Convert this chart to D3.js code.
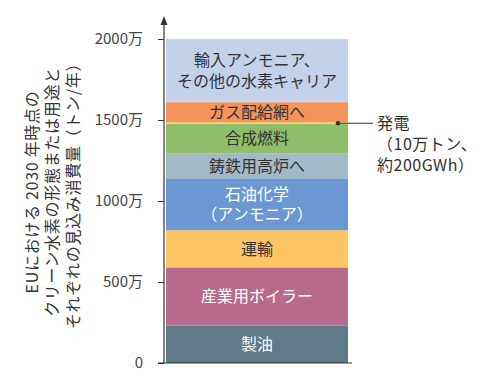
<!DOCTYPE html>
<html>
<head>
<meta charset="utf-8">
<script src="https://cdn.jsdelivr.net/npm/d3@7"></script>
<style>
  body { margin: 0; background: #fff; }
  text { font-family: "Noto Sans CJK JP", "Noto Sans", sans-serif; }
</style>
</head>
<body>
<div id="chart"></div>
<script>
// values in 万トン, stacked bottom to top
const categories = ['製油', '産業用ボイラー', '運輸', '石油化学', '鋳鉄用高炉へ', '合成燃料', '発電', 'ガス配給網へ', '輸入アンモニア'];
const values = [230, 360, 230, 320, 155, 180, 10, 125, 390];
const labels = [['製油'], ['産業用ボイラー'], ['運輸'], ['石油化学', '（アンモニア）'], ['鋳鉄用高炉へ'], ['合成燃料'], [], ['ガス配給網へ'], ['輸入アンモニア、', 'その他の水素キャリア']];
const colors = ['#5f7b88', '#b86a8a', '#fdc564', '#6b98d2', '#a4b9c6', '#8fbe6b', '#f3e02c', '#f4945b', '#c3d1eb'];
const textColors = ['#fff', '#fff', '#333', '#fff', '#333', '#333', '#333', '#333', '#333'];
const tickValues = [0, 500, 1000, 1500, 2000];
const tickLabels = ['0', '500万', '1000万', '1500万', '2000万'];
const yTitle = ['EUにおける 2030 年時点の', 'クリーン水素の形態または用途と', 'それぞれの見込み消費量（トン/年）'];
const note = ['発電', '（10万トン、', '約200GWh）'];

const width = 500, height = 390;
const axisX = 164, barX0 = 166, barX1 = 348;

const svg = d3.select('#chart').append('svg')
    .attr('width', width)
    .attr('height', height);

const y = d3.scaleLinear().domain([0, 2000]).range([363, 39]);

// stack
let acc = 0;
const segs = values.map((v, i) => {
    const s = { i, y0: acc, y1: acc + v };
    acc += v;
    return s;
});

svg.selectAll('rect.seg')
    .data(segs)
    .enter().append('rect')
    .attr('class', 'seg')
    .attr('x', barX0)
    .attr('width', barX1 - barX0)
    .attr('y', d => y(d.y1))
    .attr('height', d => y(d.y0) - y(d.y1))
    .attr('fill', d => colors[d.i]);

// segment labels, one text per line
segs.forEach(d => {
    const lines = labels[d.i];
    if (!lines.length) return;
    const cy = (y(d.y0) + y(d.y1)) / 2;
    const lh = 20.5;
    lines.forEach((l, k) => {
        svg.append('text')
            .attr('text-anchor', 'middle')
            .attr('font-size', 16)
            .attr('fill', textColors[d.i])
            .attr('x', (barX0 + barX1) / 2)
            .attr('y', cy + (k - (lines.length - 1) / 2) * lh)
            .attr('dy', '0.36em')
            .text(l);
    });
});

// y axis
const axis = svg.append('g')
    .attr('transform', `translate(${axisX},0)`)
    .call(d3.axisLeft(y).tickValues(tickValues).tickFormat((d, i) => tickLabels[i]).tickSize(6).tickPadding(15));
axis.select('.domain').remove();
axis.selectAll('.tick line').attr('stroke', '#333');
axis.selectAll('.tick text').attr('font-size', 15).attr('fill', '#444')
    .style('font-family', '"Noto Sans CJK JP", sans-serif');

svg.append('line')
    .attr('x1', axisX).attr('x2', axisX)
    .attr('y1', y(0)).attr('y2', 24)
    .attr('stroke', '#333').attr('stroke-width', 1.2);
svg.append('path')
    .attr('d', `M${axisX - 3.5},${25} L${axisX},${16} L${axisX + 3.5},${25} Z`)
    .attr('fill', '#333');
svg.append('line')
    .attr('x1', 158).attr('x2', 352)
    .attr('y1', y(0)).attr('y2', y(0))
    .attr('stroke', '#333').attr('stroke-width', 1.2);

// y title
yTitle.forEach((l, k) => {
    svg.append('text')
        .attr('transform', `translate(${32 + k * 20.5},192) rotate(-90)`)
        .attr('text-anchor', 'middle')
        .attr('font-size', 16)
        .attr('letter-spacing', 0.7)
        .attr('fill', '#333')
        .attr('dy', '0.36em')
        .text(l);
});

// annotation for 発電
const pw = segs[6];
const py = (y(pw.y0) + y(pw.y1)) / 2;
svg.append('line')
    .attr('x1', 338).attr('x2', 373)
    .attr('y1', py).attr('y2', py)
    .attr('stroke', '#333').attr('stroke-width', 1);
svg.append('circle')
    .attr('cx', 338).attr('cy', py).attr('r', 2.3)
    .attr('fill', '#333');
note.forEach((l, k) => {
    svg.append('text')
        .attr('font-size', 16)
        .attr('letter-spacing', 0.5)
        .attr('fill', '#333')
        .attr('x', 377)
        .attr('y', py + k * 21)
        .attr('dy', '0.36em')
        .text(l);
});
</script>
</body>
</html>
